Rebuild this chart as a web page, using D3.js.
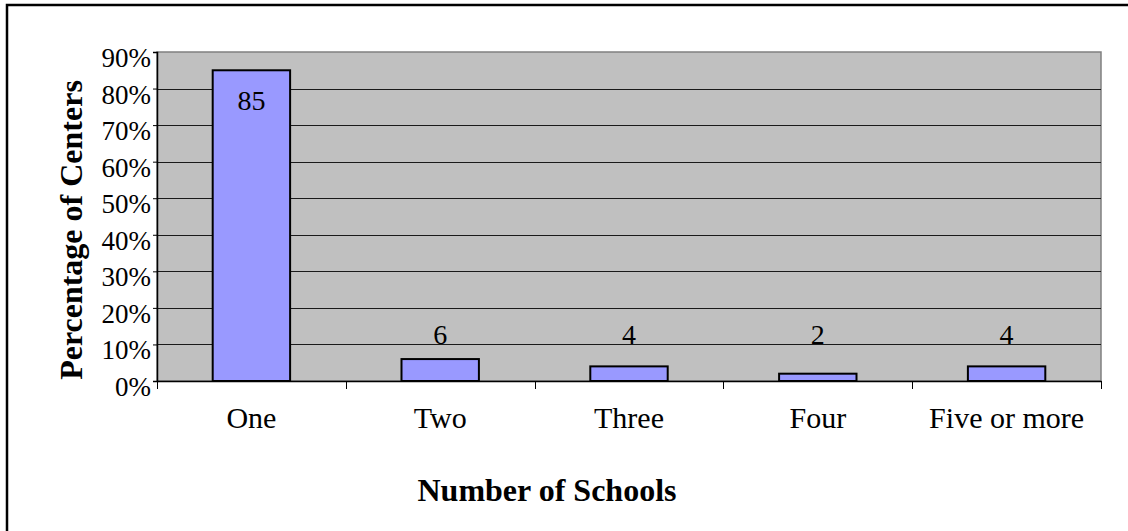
<!DOCTYPE html>
<html>
<head>
<meta charset="utf-8">
<script src="https://cdn.jsdelivr.net/npm/d3@7"></script>
<style>
  html, body { margin: 0; padding: 0; background: #fff; }
  svg { display: block; }
  text { font-family: "Liberation Serif", "Times New Roman", serif; fill: #000; }
</style>
</head>
<body>
<svg id="chart" width="1128" height="531"></svg>
<script>
// Number of schools served by each center
const categories = ["One", "Two", "Three", "Four", "Five or more"];
const percentages = [85, 6, 4, 2, 4];
const yTicks = [0, 10, 20, 30, 40, 50, 60, 70, 80, 90];
const yTitle = "Percentage of Centers";
const xTitle = "Number of Schools";

const W = 1128, H = 531;
const plot = { left: 157, right: 1101, top: 52, bottom: 381 };

const svg = d3.select("#chart");

// Outer chart frame (runs off the right and bottom edges)
svg.append("rect")
  .attr("x", 7).attr("y", 5)
  .attr("width", W + 20).attr("height", H + 20)
  .attr("fill", "#fff")
  .attr("stroke", "#000")
  .attr("stroke-width", 2.5);

const x = d3.scaleBand()
  .domain(categories)
  .range([plot.left, plot.right])
  .padding(0);

const y = d3.scaleLinear()
  .domain([0, 90])
  .range([plot.bottom, plot.top]);

// Plot background
svg.append("rect")
  .attr("x", plot.left).attr("y", plot.top)
  .attr("width", plot.right - plot.left)
  .attr("height", plot.bottom - plot.top)
  .attr("fill", "#C0C0C0")
  .attr("stroke", "#808080")
  .attr("stroke-width", 1.5);

// Horizontal gridlines
svg.append("g")
  .selectAll("line")
  .data(yTicks.filter(t => t > 0 && t < 90))
  .join("line")
  .attr("x1", plot.left).attr("x2", plot.right)
  .attr("y1", d => Math.round(y(d)) + 0.5)
  .attr("y2", d => Math.round(y(d)) + 0.5)
  .attr("stroke", "#1a1a1a")
  .attr("stroke-width", 1);

// Bars
const barW = x.bandwidth() * 0.41;
svg.append("g")
  .selectAll("rect")
  .data(categories.map((c, i) => ({ c, v: percentages[i] })))
  .join("rect")
  .attr("x", d => x(d.c) + (x.bandwidth() - barW) / 2)
  .attr("y", d => y(d.v))
  .attr("width", barW)
  .attr("height", d => y(0) - y(d.v))
  .attr("fill", "#9999FF")
  .attr("stroke", "#000")
  .attr("stroke-width", 2);

// Value labels: inside the tall bar, resting on the 10% line for the short ones
svg.append("g")
  .selectAll("text")
  .data(categories.map((c, i) => ({ c, v: percentages[i] })))
  .join("text")
  .attr("x", d => x(d.c) + x.bandwidth() / 2)
  .attr("y", d => d.v >= 10 ? y(d.v) + 40 : y(10))
  .attr("text-anchor", "middle")
  .attr("font-size", 28)
  .text(d => d.v);

// Y axis
const yAxis = svg.append("g")
  .attr("transform", `translate(${plot.left},0)`)
  .call(d3.axisLeft(y).tickValues(yTicks).tickSize(4).tickPadding(2).tickFormat(d => d + "%"));
yAxis.select(".domain").attr("stroke", "#000").attr("stroke-width", 1.5);
yAxis.selectAll(".tick line").attr("stroke", "#000");
yAxis.selectAll(".tick text")
  .attr("font-family", "Liberation Serif")
  .attr("font-size", 27)
  .attr("fill", "#000")
  .attr("dy", 14.5);

// X axis
const xAxis = svg.append("g")
  .attr("transform", `translate(0,${plot.bottom})`)
  .call(d3.axisBottom(x).tickSize(0).tickPadding(0));
xAxis.select(".domain").attr("stroke", "#000").attr("stroke-width", 1.5);
xAxis.selectAll(".tick text")
  .attr("font-family", "Liberation Serif")
  .attr("font-size", 30)
  .attr("fill", "#000")
  .attr("y", 47)
  .attr("dy", 0);

// Category divider ticks below the axis
const boundaries = categories.map(c => x(c)).concat([plot.right]);
svg.append("g")
  .selectAll("line")
  .data(boundaries)
  .join("line")
  .attr("x1", d => Math.round(d) + 0.5).attr("x2", d => Math.round(d) + 0.5)
  .attr("y1", plot.bottom).attr("y2", plot.bottom + 8)
  .attr("stroke", "#000")
  .attr("stroke-width", 1);

// Axis titles
svg.append("text")
  .attr("transform", "translate(82,230) rotate(-90)")
  .attr("text-anchor", "middle")
  .attr("font-size", 32)
  .attr("font-weight", "bold")
  .text(yTitle);

svg.append("text")
  .attr("x", 547).attr("y", 501)
  .attr("text-anchor", "middle")
  .attr("font-size", 32)
  .attr("font-weight", "bold")
  .text(xTitle);
</script>
</body>
</html>
